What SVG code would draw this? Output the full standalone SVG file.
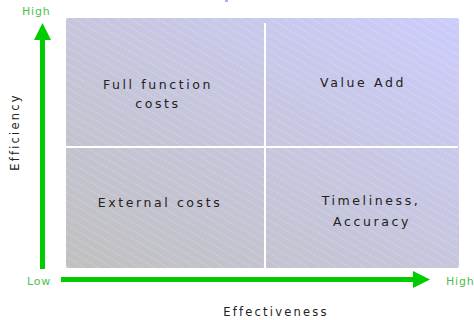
<svg xmlns="http://www.w3.org/2000/svg" width="474" height="320" viewBox="0 0 474 320">
<defs>
<style>
.q{font-family:"DejaVu Sans",Verdana,sans-serif;font-size:12.5px;fill:#222;letter-spacing:2.6px;text-anchor:middle}
.ax{font-family:"DejaVu Sans",Verdana,sans-serif;font-size:11px;fill:#4cbf4c;letter-spacing:0.8px}
.lab{font-family:"DejaVu Sans",Verdana,sans-serif;font-size:11.5px;fill:#222;letter-spacing:2.2px;text-anchor:middle}
.div{fill:#ffffff}
.arr{fill:#00cc00}
</style>
<linearGradient id="bg" x1="0" y1="1" x2="1" y2="0">
<stop offset="0" stop-color="#c0c0c0"/>
<stop offset="1" stop-color="#ccccfc"/>
</linearGradient>
<pattern id="hatch" width="7" height="7" patternUnits="userSpaceOnUse" patternTransform="rotate(30)">
<line x1="0" y1="0.5" x2="7" y2="0.5" stroke="#ffffff" stroke-opacity="0.3" stroke-width="0.7" stroke-dasharray="2 1"/>
</pattern>
</defs>
<rect x="225" y="0" width="3" height="2" fill="#b4acec"/>
<g id="panel">
<rect x="66" y="18" width="393" height="250" rx="2" fill="url(#bg)"/>
<rect x="66" y="18" width="393" height="250" rx="2" fill="url(#hatch)"/>
<rect class="div" x="264" y="23" width="2" height="245"/>
<rect class="div" x="66" y="146" width="392" height="2"/>
</g>
<g id="q-full"><text class="q" x="158" y="89">Full function</text><text class="q" x="158" y="108">costs</text></g>
<g id="q-value"><text class="q" x="363" y="87">Value Add</text></g>
<g id="q-external"><text class="q" x="160" y="207">External costs</text></g>
<g id="q-timeliness"><text class="q" x="371" y="205">Timeliness,</text><text class="q" x="372" y="226">Accuracy</text></g>
<g id="connectors">
<rect class="arr" x="40" y="39" width="5" height="230"/>
<polygon class="arr" points="42.5,23 51,40 34,40"/>
<rect class="arr" x="61" y="277" width="353" height="5"/>
<polygon class="arr" points="430,279.5 413,271 413,288"/>
</g>
<g id="labels">
<text class="ax" x="22" y="15">High</text>
<text class="ax" x="27" y="285">Low</text>
<text class="ax" x="446" y="285">High</text>
<text class="lab" x="276" y="316">Effectiveness</text>
<text class="lab" transform="translate(19,132) rotate(-90)">Efficiency</text>
</g>
</svg>
